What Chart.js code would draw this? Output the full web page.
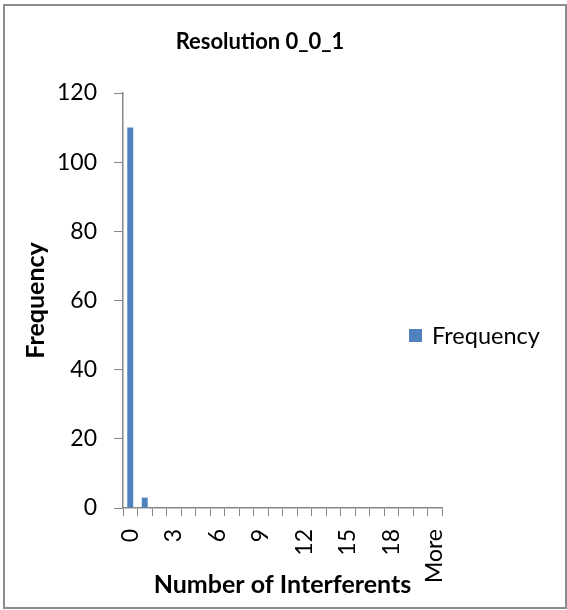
<!DOCTYPE html>
<html>
<head>
<meta charset="utf-8">
<title>Resolution 0_0_1</title>
<script src="https://cdn.jsdelivr.net/npm/chart.js@4/dist/chart.umd.min.js"></script>
<style>
  html, body { margin: 0; padding: 0; background: #fff; }
  #wrap { width: 567px; height: 610px; }
</style>
</head>
<body>
<div id="wrap"><canvas id="histChart" width="567" height="610"></canvas></div>
<script>
// histogram bins and counts
const bins = ['0', '1', '2', '3', '4', '5', '6', '7', '8', '9', '10',
  '11', '12', '13', '14', '15', '16', '17', '18', '19', '20', 'More'];
const frequency = [110, 3, 0, 0, 0, 0, 0, 0, 0, 0, 0,
  0, 0, 0, 0, 0, 0, 0, 0, 0, 0, 0];
const yTicks = [0, 20, 40, 60, 80, 100, 120];

const chartTitle = 'Resolution 0_0_1';
const seriesName = 'Frequency';
const barColor = '#4F81BD';
const axisColor = '#878787';
const fontFamily = 'Lato, Calibri, "Open Sans", sans-serif';

// white background, outer frame, title and the legend entry on the right
const frame = {
  id: 'frame',
  beforeDraw(chart) {
    const ctx = chart.ctx;
    ctx.save();
    ctx.fillStyle = '#fff';
    ctx.fillRect(0, 0, chart.width, chart.height);
    ctx.strokeStyle = '#8c8c8c';
    ctx.lineWidth = 2;
    ctx.strokeRect(4, 5, 562, 603);
    ctx.restore();
  },
  afterDraw(chart) {
    const ctx = chart.ctx;
    ctx.save();
    ctx.fillStyle = '#000';
    ctx.font = 'bold 22px ' + fontFamily;
    ctx.textAlign = 'center';
    ctx.textBaseline = 'middle';
    ctx.fillText(chartTitle, 260, 42);

    const ds = chart.data.datasets[0];
    ctx.fillStyle = ds.backgroundColor;
    ctx.fillRect(409, 329, 13, 13);
    ctx.fillStyle = '#000';
    ctx.font = '23.5px ' + fontFamily;
    ctx.textAlign = 'left';
    ctx.fillText(ds.label, 432, 336);
    ctx.restore();
  }
};

new Chart(document.getElementById('histChart'), {
  type: 'bar',
  data: {
    labels: bins,
    datasets: [{
      label: seriesName,
      data: frequency,
      backgroundColor: barColor,
      borderWidth: 0,
      barPercentage: 0.82,
      categoryPercentage: 0.5
    }]
  },
  options: {
    responsive: false,
    animation: false,
    layout: { padding: { left: 10, right: 125, top: 93, bottom: 8 } },
    plugins: {
      legend: { display: false },
      title: { display: false },
      tooltip: { enabled: false }
    },
    scales: {
      x: {
        offset: true,
        grid: {
          offset: true,
          drawOnChartArea: false,
          drawTicks: true,
          tickLength: 8,
          color: axisColor
        },
        border: { color: axisColor, width: 1.5 },
        ticks: {
          autoSkip: false,
          minRotation: 90,
          maxRotation: 90,
          padding: 13,
          color: '#000',
          font: { family: fontFamily, size: 23 },
          callback: function (val, i) {
            return i % 3 === 0 ? this.getLabelForValue(val) : '';
          }
        },
        title: {
          display: true,
          text: 'Number of Interferents',
          color: '#000',
          font: { family: fontFamily, size: 25, weight: 'bold' },
          padding: { top: 0, bottom: 2 }
        },
        afterFit: (scale) => { scale.height = 94; }
      },
      y: {
        min: 0,
        max: 120,
        afterBuildTicks: (scale) => { scale.ticks = yTicks.map(v => ({ value: v })); },
        grid: {
          drawOnChartArea: false,
          drawTicks: true,
          tickLength: 9,
          color: axisColor
        },
        border: { color: axisColor, width: 1.5 },
        ticks: {
          padding: 17,
          color: '#000',
          font: { family: fontFamily, size: 23 }
        },
        title: {
          display: true,
          text: 'Frequency',
          color: '#000',
          font: { family: fontFamily, size: 25, weight: 'bold' },
          padding: { top: 11, bottom: 0 }
        },
        afterFit: (scale) => { scale.width = 113; }
      }
    }
  },
  plugins: [frame]
});
</script>
</body>
</html>
